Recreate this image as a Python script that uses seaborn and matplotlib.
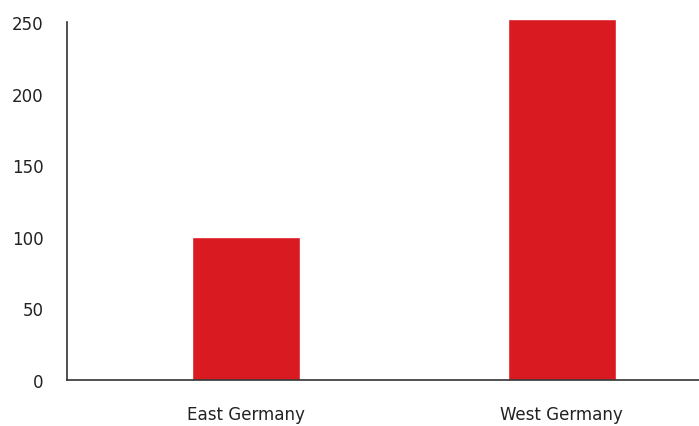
import matplotlib
matplotlib.use("Agg")
import matplotlib.pyplot as plt
import seaborn as sns
import pandas as pd

regions = ["East Germany", "West Germany"]
values = [100, 252]
yticks = [0, 50, 100, 150, 200, 250]

df = pd.DataFrame({"region": regions, "value": values})

sns.set_theme(style="white")
plt.rcParams["font.family"] = ["DejaVu Sans"]
plt.rcParams["font.stretch"] = "condensed"

fig = plt.figure(figsize=(6.99, 4.27), dpi=100)
ax = fig.add_axes([67 / 699, (427 - 381) / 427, 632 / 699, (381 - 18.7) / 427])

sns.barplot(data=df, x="region", y="value", color="#d91a21", saturation=1,
            width=0.342, ax=ax)

ax.set_xlim(-0.566, 1.434)
ax.set_ylim(0, 253)
ax.set_yticks(yticks)
ax.set_xlabel("")
ax.set_ylabel("")
sns.despine(ax=ax)
ax.spines["left"].set_bounds(0, 250)
for s in ["left", "bottom"]:
    ax.spines[s].set_color("#333333")
    ax.spines[s].set_linewidth(1.2)
ax.tick_params(axis="both", length=0, labelsize=13.3, colors="#222222")
ax.tick_params(axis="y", pad=17)
ax.tick_params(axis="x", pad=18)

fig.savefig("out.png", dpi=100)
